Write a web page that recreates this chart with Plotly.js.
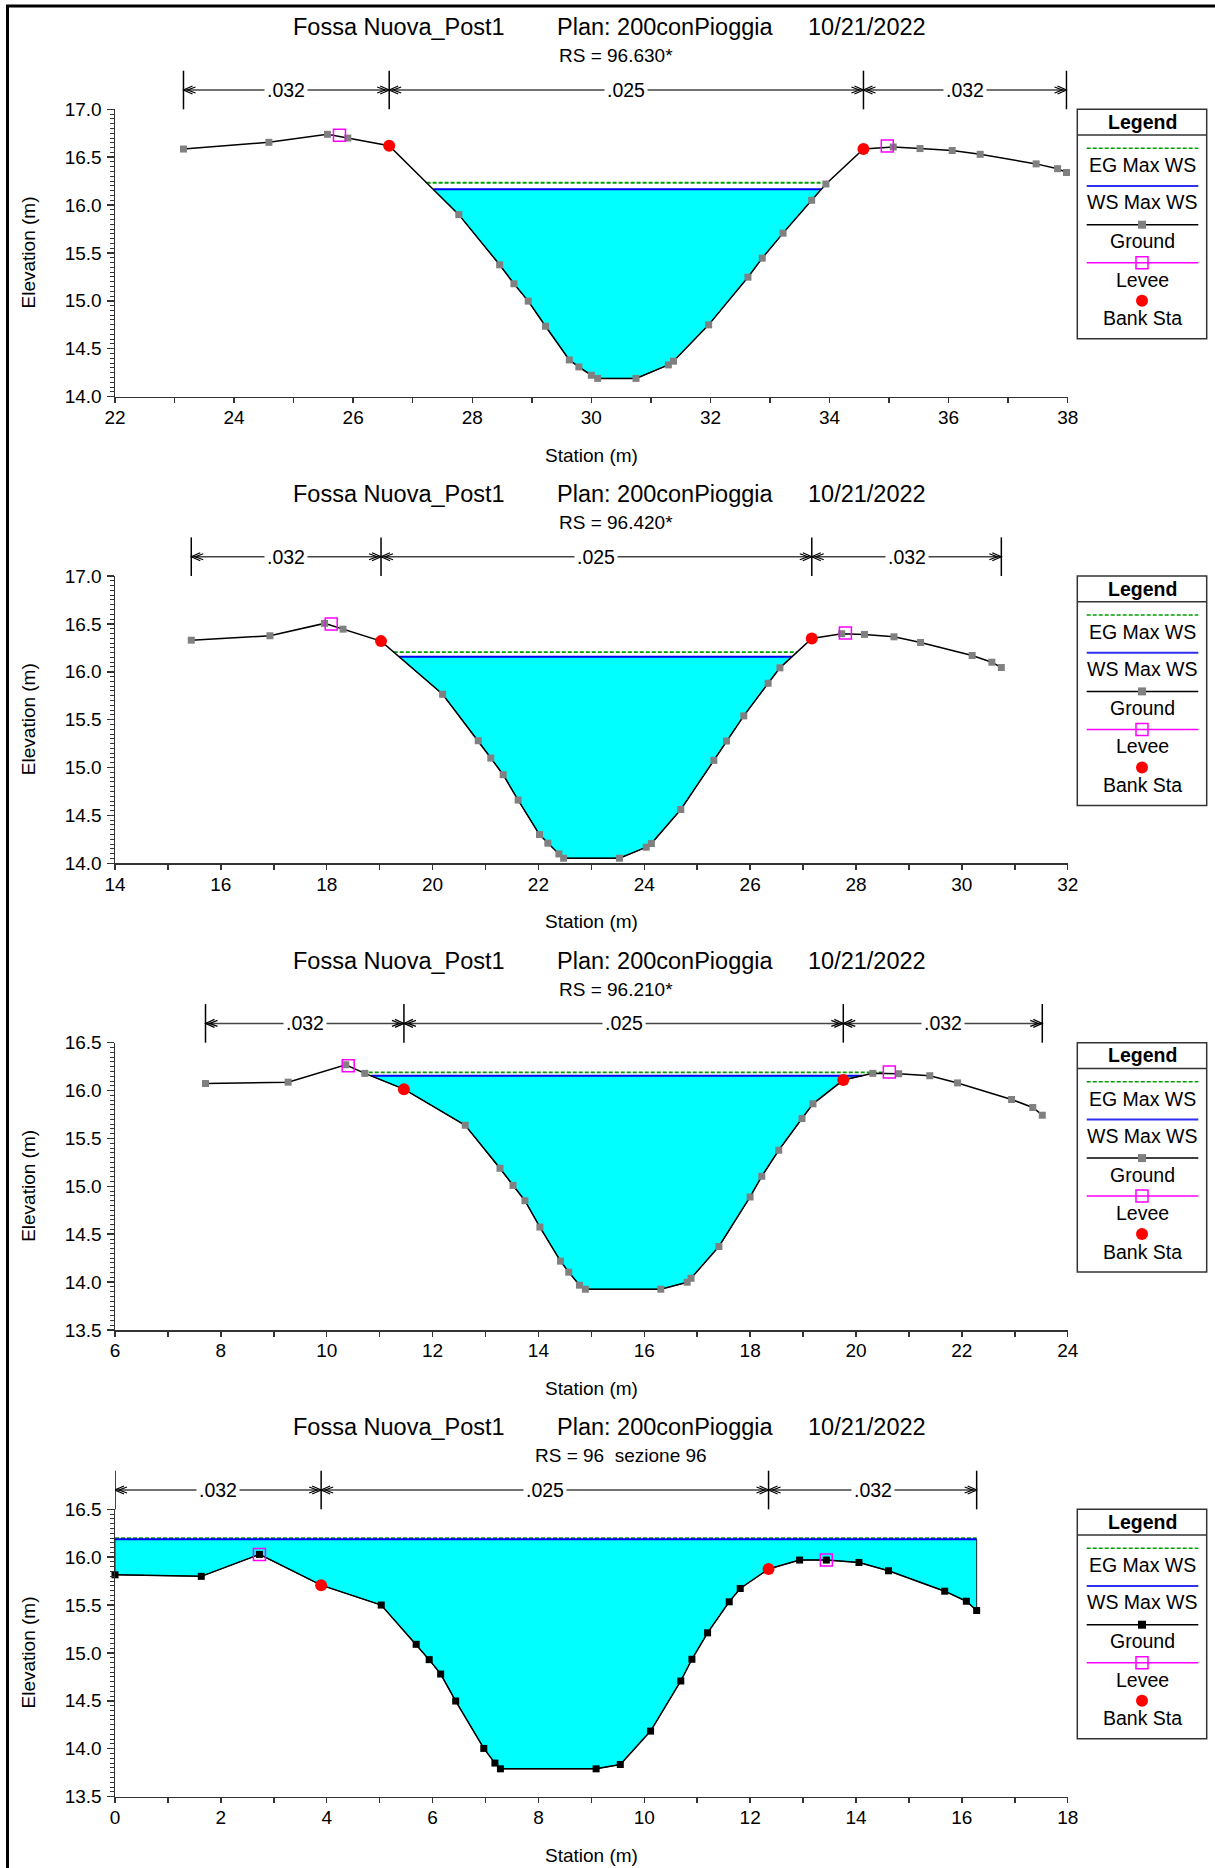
<!DOCTYPE html>
<html>
<head>
<meta charset="utf-8">
<script src="https://cdn.plot.ly/plotly-3.0.1.min.js"></script>
<style>html,body{margin:0;padding:0;background:#fff;}#chart{width:1215px;height:1868px;}</style>
</head>
<body>
<div id="chart"></div>
<script>
// ---------------- DATA ----------------
const titleRiver = "Fossa Nuova_Post1";
const titlePlan = "Plan: 200conPioggia";
const titleDate = "10/21/2022";
const rsLabels = ["RS = 96.630*", "RS = 96.420*", "RS = 96.210*", "RS = 96 \u00a0sezione 96"];
const nValues = [".032", ".025", ".032"];
const legendLabels = ["EG Max WS", "WS Max WS", "Ground", "Levee", "Bank Sta"];

// Panel 1 (RS 96.630*)
const p1GroundX = [23.15,24.585,25.568,25.91,26.605,27.774,28.46,28.70,28.94,29.23,29.63,29.79,30.0,30.106,30.75,31.293,31.38,31.97,32.63,32.87,33.22,33.70,33.94,34.57,35.07,35.52,36.06,36.53,37.47,37.83,37.98];
const p1GroundY = [16.585,16.655,16.739,16.70,16.62,15.90,15.376,15.178,14.997,14.735,14.383,14.31,14.223,14.19,14.19,14.331,14.37,14.749,15.247,15.446,15.707,16.05,16.22,16.585,16.606,16.59,16.57,16.53,16.43,16.38,16.34];
const p1LeveeX = [25.77, 34.97];
const p1LeveeY = [16.73, 16.617];
const p1BankX = [26.605, 34.57];
const p1BankY = [16.62, 16.585];
const p1WS = 16.164;
const p1EG = 16.233;
const p1XRange = [22, 38];
const p1YRange = [14, 17];

// Panel 2 (RS 96.420*)
const p2GroundX = [15.441,16.928,17.958,18.309,19.026,20.19,20.863,21.10,21.334,21.617,22.02,22.178,22.387,22.476,23.532,24.037,24.134,24.69,25.315,25.553,25.88,26.34,26.563,27.165,27.73,28.16,28.718,29.22,30.195,30.567,30.746];
const p2GroundY = [16.33,16.376,16.505,16.445,16.32,15.765,15.28,15.099,14.925,14.66,14.30,14.21,14.098,14.053,14.053,14.168,14.206,14.562,15.075,15.277,15.539,15.88,16.041,16.348,16.397,16.39,16.365,16.306,16.17,16.10,16.044];
const p2LeveeX = [18.085, 27.80];
const p2LeveeY = [16.50, 16.404];
const p2BankX = [19.026, 27.165];
const p2BankY = [16.32, 16.348];
const p2WS = 16.156;
const p2EG = 16.205;
const p2XRange = [14, 32];
const p2YRange = [14, 17];

// Panel 3 (RS 96.210*)
const p3GroundX = [7.71,9.271,10.36,10.72,11.459,12.617,13.274,13.52,13.745,14.028,14.417,14.573,14.775,14.887,16.312,16.81,16.884,17.41,17.999,18.22,18.54,18.98,19.187,19.76,20.317,20.807,21.394,21.92,22.94,23.34,23.52];
const p3GroundY = [16.074,16.088,16.27,16.18,16.015,15.638,15.189,15.01,14.85,14.575,14.219,14.104,13.968,13.926,13.926,13.999,14.04,14.372,14.889,15.105,15.377,15.708,15.862,16.11,16.18,16.176,16.155,16.08,15.907,15.823,15.743];
const p3LeveeX = [10.406, 20.63];
const p3LeveeY = [16.26, 16.195];
const p3BankX = [11.459, 19.76];
const p3BankY = [16.015, 16.11];
const p3WS = 16.155;
const p3EG = 16.19;
const p3XRange = [6, 24];
const p3YRange = [13.5, 16.5];

// Panel 4 (RS 96 sezione 96)
const p4GroundX = [0,1.63,2.729,3.895,5.03,5.69,5.936,6.153,6.437,6.968,7.178,7.282,9.09,9.547,10.119,10.69,10.90,11.196,11.605,11.813,12.348,12.935,13.44,14.056,14.614,15.676,16.085,16.28];
const p4GroundY = [15.816,15.80,16.029,15.708,15.50,15.09,14.93,14.78,14.498,14.003,13.85,13.79,13.79,13.835,14.184,14.707,14.934,15.21,15.534,15.673,15.876,15.97,15.97,15.945,15.858,15.645,15.54,15.443];
const p4LeveeX = [2.729, 13.44];
const p4LeveeY = [16.029, 15.97];
const p4BankX = [3.895, 12.348];
const p4BankY = [15.708, 15.876];
const p4WS = 16.186;
const p4EG = 16.2;
const p4XRange = [0, 18];
const p4YRange = [13.5, 16.5];

// ---------------- BUILD ----------------
const W = 1215, H = 1868;
const FONT = "Liberation Sans, Arial, Helvetica, sans-serif";
const PL = 115, PR = 1067.7, PH = 287.3;
const TOPS = [109.3, 576, 1042.7, 1509.3];
const AX = "#333333";
const EGC = "#00A000";

const panels = [
  {gx:p1GroundX, gy:p1GroundY, lx:p1LeveeX, ly:p1LeveeY, bx:p1BankX, by:p1BankY, ws:p1WS, eg:p1EG, xr:p1XRange, yr:p1YRange, mk:"#808080"},
  {gx:p2GroundX, gy:p2GroundY, lx:p2LeveeX, ly:p2LeveeY, bx:p2BankX, by:p2BankY, ws:p2WS, eg:p2EG, xr:p2XRange, yr:p2YRange, mk:"#808080"},
  {gx:p3GroundX, gy:p3GroundY, lx:p3LeveeX, ly:p3LeveeY, bx:p3BankX, by:p3BankY, ws:p3WS, eg:p3EG, xr:p3XRange, yr:p3YRange, mk:"#808080"},
  {gx:p4GroundX, gy:p4GroundY, lx:p4LeveeX, ly:p4LeveeY, bx:p4BankX, by:p4BankY, ws:p4WS, eg:p4EG, xr:p4XRange, yr:p4YRange, mk:"#000000"}
];

const px = v => v / W;
const py = v => 1 - v / H;

// wetted section: walk outward from the lowest point until the profile reaches the level
function wetSection(gx, gy, lx, ly, level) {
  const pts = gx.map((x, i) => ({x, y: gy[i]})).concat(lx.map((x, i) => ({x, y: ly[i]})));
  pts.sort((a, b) => a.x - b.x);
  let imin = 0;
  pts.forEach((p, i) => { if (p.y < pts[imin].y) imin = i; });
  let li = imin, left = null;
  while (li > 0) {
    const a = pts[li - 1], b = pts[li];
    if (a.y >= level) { left = b.x + (a.x - b.x) * (level - b.y) / (a.y - b.y); break; }
    li--;
  }
  let ri = imin, right = null;
  while (ri < pts.length - 1) {
    const a = pts[ri], b = pts[ri + 1];
    if (b.y >= level) { right = a.x + (b.x - a.x) * (level - a.y) / (b.y - a.y); break; }
    ri++;
  }
  const xs = [], ys = [];
  xs.push(left === null ? pts[0].x : left); ys.push(level);
  for (let i = li; i <= ri; i++) { xs.push(pts[i].x); ys.push(pts[i].y); }
  xs.push(right === null ? pts[pts.length - 1].x : right); ys.push(level);
  return {xs, ys, xl: xs[0], xr: xs[xs.length - 1]};
}

const data = [];
const shapes = [];
const annotations = [];
const layout = {
  width: W, height: H,
  margin: {l: 0, r: 0, t: 0, b: 0, pad: 0},
  paper_bgcolor: "#ffffff", plot_bgcolor: "#ffffff",
  showlegend: false,
  font: {family: FONT, color: "#000000"}
};

// outer frame (left & top edges visible)
shapes.push({type: "rect", xref: "paper", yref: "paper", x0: px(7.5), x1: px(1240), y0: py(6), y1: py(1890),
  line: {color: "#000000", width: 3}, fillcolor: "rgba(0,0,0,0)", layer: "above"});

panels.forEach((p, i) => {
  const k = i === 0 ? "" : String(i + 1);
  const xa = "x" + k, ya = "y" + k;
  const top = TOPS[i];
  layout["xaxis" + k] = {
    domain: [px(PL), px(PR)], range: p.xr, anchor: ya, fixedrange: true,
    tick0: 0, dtick: 2, ticks: "outside", ticklen: 5, tickwidth: 1.5, tickcolor: AX,
    showline: true, linecolor: AX, linewidth: 1.5, showgrid: false, zeroline: false,
    tickfont: {family: FONT, size: 19, color: "#000"}, ticklabelstandoff: -2,
    minor: {tick0: 0, dtick: 1, ticks: "outside", ticklen: 5, tickwidth: 1.5, tickcolor: AX, showgrid: false}
  };
  layout["yaxis" + k] = {
    domain: [py(top + PH), py(top)], range: p.yr, anchor: xa, fixedrange: true,
    tick0: 0, dtick: 0.5, tickformat: ".1f", ticks: "outside", ticklen: 7, tickwidth: 1.5, tickcolor: AX,
    showline: true, linecolor: AX, linewidth: 1.5, showgrid: false, zeroline: false,
    tickfont: {family: FONT, size: 19, color: "#000"}, ticklabelstandoff: 1,
    minor: {tick0: 0, dtick: 0.05, ticks: "outside", ticklen: 4, tickwidth: 1, tickcolor: AX, showgrid: false}
  };

  const wsSec = wetSection(p.gx, p.gy, p.lx, p.ly, p.ws);
  const egSec = wetSection(p.gx, p.gy, p.lx, p.ly, p.eg);

  // water fill
  data.push({type: "scatter", mode: "lines", x: wsSec.xs, y: wsSec.ys, xaxis: xa, yaxis: ya,
    fill: "toself", fillcolor: "#00FFFF", line: {color: "#222", width: 1}, hoverinfo: "skip"});
  // EG line
  data.push({type: "scatter", mode: "lines", x: [egSec.xl, egSec.xr], y: [p.eg, p.eg], xaxis: xa, yaxis: ya,
    line: {color: EGC, width: 1.8, dash: "4px,2px"}, hoverinfo: "skip"});
  // WS line
  data.push({type: "scatter", mode: "lines", x: [wsSec.xl, wsSec.xr], y: [p.ws, p.ws], xaxis: xa, yaxis: ya,
    line: {color: "#0000F0", width: 2}, hoverinfo: "skip"});
  // Ground
  data.push({type: "scatter", mode: "lines+markers", x: p.gx, y: p.gy, xaxis: xa, yaxis: ya, cliponaxis: false,
    line: {color: "#000000", width: 1.5}, marker: {symbol: "square", size: 7, color: p.mk, line: {width: 0}}});
  // Levee
  data.push({type: "scatter", mode: "markers", x: p.lx, y: p.ly, xaxis: xa, yaxis: ya, cliponaxis: false,
    marker: {symbol: "square-open", size: 12, color: "#FF00FF", line: {width: 1.5, color: "#FF00FF"}}});
  // Bank stations
  data.push({type: "scatter", mode: "markers", x: p.bx, y: p.by, xaxis: xa, yaxis: ya, cliponaxis: false,
    marker: {symbol: "circle", size: 12, color: "#FF0000", line: {width: 0}}});

  // titles
  annotations.push({xref: "paper", yref: "paper", x: px(291), y: py(top - 82), xanchor: "left", yanchor: "middle",
    text: titleRiver, showarrow: false, font: {family: FONT, size: 23.5, color: "#000"}});
  annotations.push({xref: "paper", yref: "paper", x: px(555), y: py(top - 82), xanchor: "left", yanchor: "middle",
    text: titlePlan, showarrow: false, font: {family: FONT, size: 23.5, color: "#000"}});
  annotations.push({xref: "paper", yref: "paper", x: px(806), y: py(top - 82), xanchor: "left", yanchor: "middle",
    text: titleDate, showarrow: false, font: {family: FONT, size: 23.5, color: "#000"}});
  annotations.push({xref: "paper", yref: "paper", x: px(i === 3 ? 533 : 557), y: py(top - 53.5), xanchor: "left", yanchor: "middle",
    text: rsLabels[i], showarrow: false, font: {family: FONT, size: 19, color: "#000"}});
  // axis titles
  annotations.push({xref: "paper", yref: "paper", x: px(591), y: py(top + 346), xanchor: "center", yanchor: "middle",
    text: "Station (m)", showarrow: false, font: {family: FONT, size: 19, color: "#000"}});
  annotations.push({xref: "paper", yref: "paper", x: px(28.5), y: py(top + PH / 2), xanchor: "center", yanchor: "middle",
    text: "Elevation (m)", textangle: -90, showarrow: false, font: {family: FONT, size: 19, color: "#000"}});

  // Manning's n bars
  const st = [p.gx[0], p.bx[0], p.bx[1], p.gx[p.gx.length - 1]];
  const lineY = py(top - 19.3);
  st.forEach(s => {
    shapes.push({type: "line", xref: xa, yref: "paper", x0: s, x1: s, y0: py(top - 38.6), y1: py(top),
      line: {color: "#000", width: 1.5}, layer: "above"});
  });
  for (let j = 0; j < 3; j++) {
    const a = st[j], b = st[j + 1];
    shapes.push({type: "line", xref: xa, yref: "paper", x0: a, x1: b, y0: lineY, y1: lineY,
      line: {color: "#444", width: 1.5}, layer: "above"});
    shapes.push({type: "path", xref: xa, yref: "paper", xsizemode: "pixel", ysizemode: "pixel", xanchor: a, yanchor: lineY,
      path: "M 9,4 L 0,0 L 9,-4 M 12,3 L 4,0 L 12,-3", line: {color: "#000", width: 1.2}, layer: "above"});
    shapes.push({type: "path", xref: xa, yref: "paper", xsizemode: "pixel", ysizemode: "pixel", xanchor: b, yanchor: lineY,
      path: "M -9,4 L 0,0 L -9,-4 M -12,3 L -4,0 L -12,-3", line: {color: "#000", width: 1.2}, layer: "above"});
    annotations.push({xref: xa, yref: "paper", x: (a + b) / 2, y: lineY, xanchor: "center", yanchor: "middle",
      text: nValues[j], showarrow: false, bgcolor: "#ffffff", borderpad: 2,
      font: {family: FONT, size: 19.5, color: "#000"}});
  }

  // Legend box
  const L0 = 1077.3, L1 = 1206.7, LC = (L0 + L1) / 2;
  shapes.push({type: "rect", xref: "paper", yref: "paper", x0: px(L0), x1: px(L1), y0: py(top), y1: py(top + 229.4),
    line: {color: "#333", width: 1.5}, fillcolor: "#ffffff", layer: "below"});
  shapes.push({type: "line", xref: "paper", yref: "paper", x0: px(L0), x1: px(L1), y0: py(top + 25.7), y1: py(top + 25.7),
    line: {color: "#333", width: 1.5}});
  annotations.push({xref: "paper", yref: "paper", x: px(LC), y: py(top + 12.5), xanchor: "center", yanchor: "middle",
    text: "<b>Legend</b>", showarrow: false, font: {family: FONT, size: 19.5, color: "#000"}});
  const lx0 = px(1086.7), lx1 = px(1198.3);
  const lineYs = [39, 76.7, 115.4, 153.4];
  const textYs = [56, 93, 132, 170.5, 209];
  shapes.push({type: "line", xref: "paper", yref: "paper", x0: lx0, x1: lx1, y0: py(top + lineYs[0]), y1: py(top + lineYs[0]),
    line: {color: EGC, width: 1.5, dash: "4px,2px"}});
  shapes.push({type: "line", xref: "paper", yref: "paper", x0: lx0, x1: lx1, y0: py(top + lineYs[1]), y1: py(top + lineYs[1]),
    line: {color: "#3030F0", width: 2}});
  shapes.push({type: "line", xref: "paper", yref: "paper", x0: lx0, x1: lx1, y0: py(top + lineYs[2]), y1: py(top + lineYs[2]),
    line: {color: "#000", width: 1.5}});
  shapes.push({type: "rect", xref: "paper", yref: "paper", x0: px(LC - 4), x1: px(LC + 4), y0: py(top + lineYs[2] - 4), y1: py(top + lineYs[2] + 4),
    line: {width: 0}, fillcolor: p.mk});
  shapes.push({type: "line", xref: "paper", yref: "paper", x0: lx0, x1: lx1, y0: py(top + lineYs[3]), y1: py(top + lineYs[3]),
    line: {color: "#FF00FF", width: 1.5}});
  shapes.push({type: "rect", xref: "paper", yref: "paper", x0: px(LC - 6), x1: px(LC + 6), y0: py(top + lineYs[3] - 6), y1: py(top + lineYs[3] + 6),
    line: {color: "#FF00FF", width: 1.5}, fillcolor: "rgba(0,0,0,0)"});
  shapes.push({type: "circle", xref: "paper", yref: "paper", x0: px(LC - 6), x1: px(LC + 6), y0: py(top + 191.4 - 6), y1: py(top + 191.4 + 6),
    line: {width: 0}, fillcolor: "#FF0000"});
  legendLabels.forEach((t, j) => {
    annotations.push({xref: "paper", yref: "paper", x: px(LC), y: py(top + textYs[j]), xanchor: "center", yanchor: "middle",
      text: t, showarrow: false, font: {family: FONT, size: 19.5, color: "#000"}});
  });
});

layout.shapes = shapes;
layout.annotations = annotations;

Plotly.newPlot("chart", data, layout, {staticPlot: true, displayModeBar: false});
</script>
</body>
</html>
